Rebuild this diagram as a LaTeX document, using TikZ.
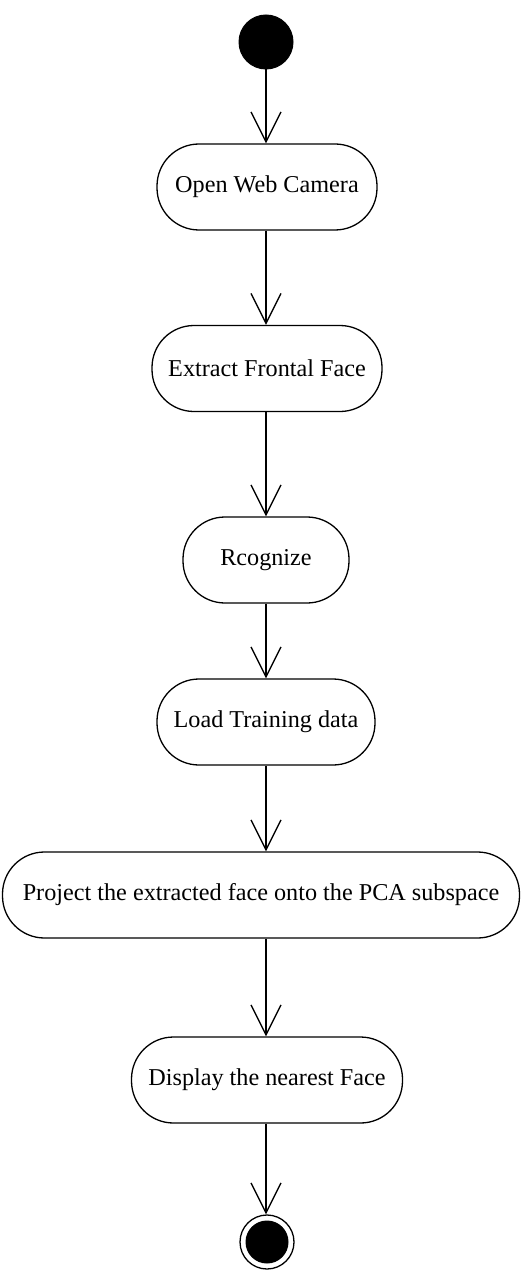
\documentclass[tikz,border=0pt]{standalone}
\usepackage{fontspec}
\setmainfont{Liberation Serif}
\usetikzlibrary{arrows.meta}

\tikzset{
    act/.style={draw, line width=1.3pt, rounded corners=42pt, minimum height=86pt,
        inner sep=0pt, font=\fontsize{24.2}{29}\selectfont},
    flow/.style={line width=1.3pt, -{Straight Barb[length=30pt, width=30pt, line width=1.3pt]}}
}

\begin{document}
\begin{tikzpicture}[x=1pt, y=-1pt]
        \useasboundingbox (0,0) rectangle (520,1273);
        \node[circle, fill=black, draw, line width=1pt, minimum size=54pt, inner sep=0pt] (start) at (266,42) {};
        \foreach \x/\y/\w/\t [count=\i] in {267/187/220/Open Web Camera,
            267/368.5/230/Extract Frontal Face, 266/560/166/Rcognize,
            266/722/218/Load Training data,
            261/895/517/Project the extracted face onto the PCA subspace,
            267/1080/271/Display the nearest Face} {
            \node[act, minimum width=\w pt] (a\i) at (\x,\y) {\t};
        }
        \node[circle, draw, line width=1.3pt, minimum size=54pt, inner sep=0pt] (stop) at (267,1242) {};
        \fill (stop) circle (21.5pt);
        \foreach \p/\q in {start/a1, a1/a2, a2/a3, a3/a4, a4/a5, a5/a6, a6/stop} {
            \draw[flow] (\p.south -| start) -- (\q.north -| start);
        }
    \end{tikzpicture}
\end{document}
